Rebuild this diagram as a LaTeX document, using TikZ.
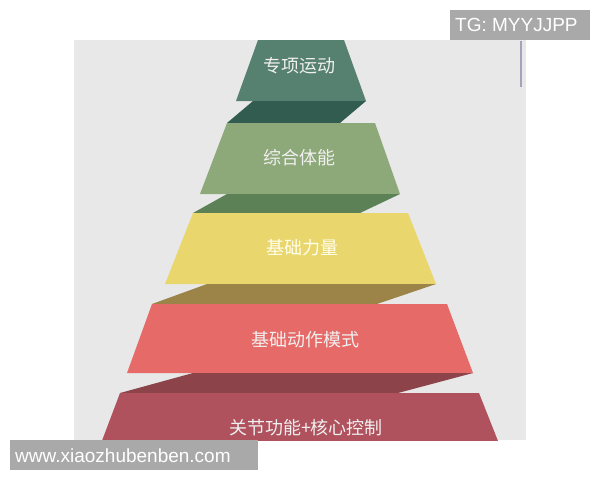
\documentclass[tikz,border=0pt]{standalone}
\usepackage{fontspec}
\setmainfont{Liberation Sans}
\newfontfamily\cjk{Noto Sans CJK SC}
\definecolor{bggray}{HTML}{E8E8E8}
\definecolor{wmgray}{HTML}{A9A9A9}
\definecolor{tonefront}{HTML}{56806F}
\definecolor{toneside}{HTML}{325C50}
\definecolor{ttwofront}{HTML}{8DA879}
\definecolor{ttwoside}{HTML}{5C8157}
\definecolor{tthreefront}{HTML}{E9D66C}
\definecolor{tthreeside}{HTML}{9C8347}
\definecolor{tfourfront}{HTML}{E66B68}
\definecolor{tfourside}{HTML}{8C444A}
\definecolor{tfivefront}{HTML}{AF525E}
\definecolor{scrollc}{HTML}{A3A3BC}
\tikzset{
  tierlabel/.style={font=\cjk\fontsize{18}{20}\selectfont, text=white!94!black, inner sep=0pt},
  wmbox/.style={fill=wmgray, text=white, font=\fontsize{19}{21}\selectfont, inner sep=0pt, anchor=west}
}
\begin{document}
\begin{tikzpicture}[x=1pt,y=-1pt]
\useasboundingbox (0,0) rectangle (600,480);
\fill[white] (0,0) rectangle (600,480);
\fill[bggray] (74,40) rectangle (526,440);
\begin{scope}
\clip (74,40) rectangle (526,440);
% tier 1
\fill[tonefront] (258,40) -- (344,40) -- (366,101) -- (236,101) -- cycle;
\fill[toneside] (253,101) -- (366,101) -- (340,123) -- (227,123) -- cycle;
% tier 2
\fill[ttwofront] (227,123) -- (375,123) -- (400,194) -- (200,194) -- cycle;
\fill[ttwoside] (227,194) -- (400,194) -- (360,213) -- (193,213) -- cycle;
% tier 3
\fill[tthreefront] (193,213) -- (408,213) -- (436,284) -- (165,284) -- cycle;
\fill[tthreeside] (207,284) -- (436,284) -- (377,304) -- (152,304) -- cycle;
% tier 4
\fill[tfourfront] (152,304) -- (447,304) -- (473,373) -- (127,373) -- cycle;
\fill[tfourside] (193,373) -- (473,373) -- (398,393) -- (120,393) -- cycle;
% tier 5
\fill[tfivefront] (120,393) -- (479,393) -- (500,446) -- (100,446) -- cycle;
\end{scope}
% scroll bar
\draw[scrollc, line width=2.2pt] (521,41) -- (521,87);
% labels
\node[tierlabel] (l1) at (299,66) {专项运动};
\node[tierlabel] (l2) at (299,158) {综合体能};
\node[tierlabel, text=white!92!yellow] (l3) at (302,248) {基础力量};
\node[tierlabel] (l4) at (305,340) {基础动作模式};
\node[tierlabel] (l5) at (306,428) {关节功能+核心控制};
% watermarks
\fill[wmgray] (450,10) rectangle (590,40);
\node[wmbox] (wm1) at (455,25) {TG: MYYJJPP};
\fill[wmgray] (10,440) rectangle (258,470);
\node[wmbox] (wm2) at (15,456) {www.xiaozhubenben.com};
\end{tikzpicture}
\end{document}
